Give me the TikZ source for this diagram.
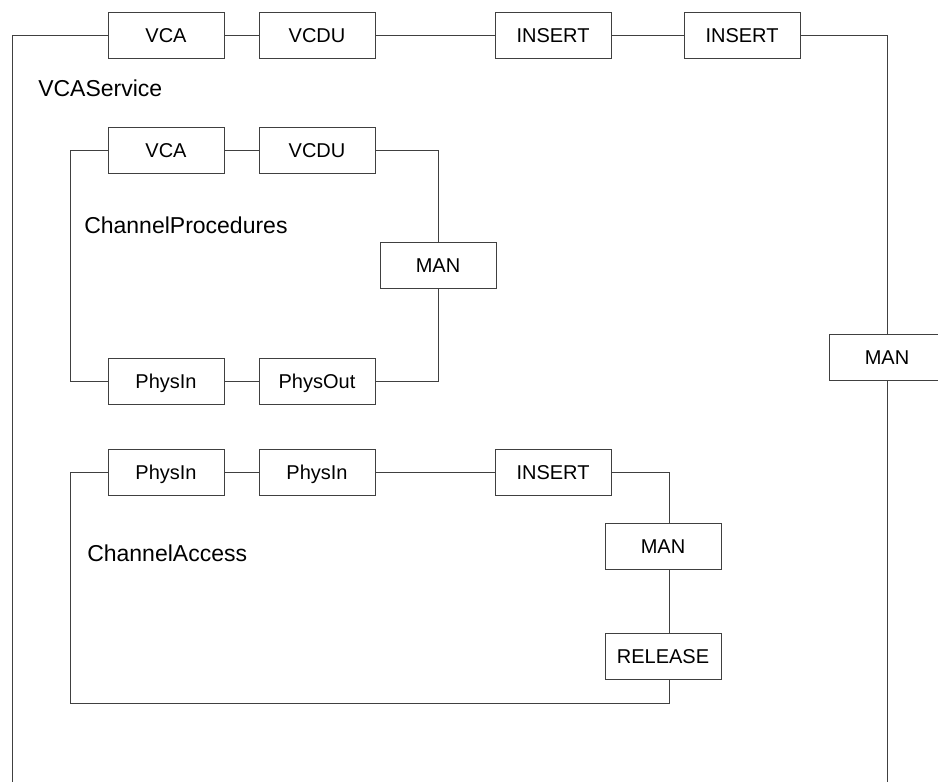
\documentclass[tikz,border=0pt]{standalone}
\usepackage{fontspec}
\setmainfont{Liberation Sans}
\begin{document}
\begin{tikzpicture}[x=.75pt,y=-.75pt,
		blk/.style={draw=black!75,line width=.75pt,minimum width=87pt,minimum height=34.5pt,
			inner sep=0pt,text height=10.7pt,text depth=0pt,font=\fontsize{15}{18}\selectfont},
		lbl/.style={anchor=west,inner sep=0pt,font=\fontsize{17.25}{20}\selectfont},
		wire/.style={draw=black!75,line width=.75pt}]
				\fill[white] (0,0) rectangle (938,782);
				\clip (0,0) rectangle (938,782);
				\def\off{4.5pt}
				
				% VCAService
				\node[blk] (vcai) at (166,35) {VCA};
				\node[blk] (vcdui) at (317,35) {VCDU};
				\node[blk] (insi) at (553,35) {INSERT};
				\node[blk] (insii) at (742,35) {INSERT};
				\node[blk] (mano) at (887,357) {MAN};
				\node[lbl] (vcas) at (38,88) {VCAService};
				\coordinate (vsw) at (12,782);
				\coordinate (vse) at (887,782);
				
				\draw[wire] (vcai.west) -| (vsw);
				\draw[wire] (vcai) -- (vcdui);
				\draw[wire] (vcdui) -- (insi);
				\draw[wire] (insi) -- (insii);
				\draw[wire] (insii.east) -| (mano.north);
				\draw[wire] (mano.south) -- (vse);
				
				% ChannelProcedures
				\node[blk] (vcaii) at (166,150) {VCA};
				\node[blk] (vcduii) at (317,150) {VCDU};
				\node[blk] (manp) at (438,265) {MAN};
				\node[blk] (physinp) at (166,381) {PhysIn};
				\node[blk] (physoutp) at (317,381) {PhysOut};
				\node[lbl] (chp) at (84,225) {ChannelProcedures};
				\coordinate (pnw) at (70,150);
				
				\draw[wire] (vcaii.west) -- (pnw) |- (physinp.west);
				\draw[wire] (vcaii) -- (vcduii);
				\draw[wire] (vcduii.east) -| (manp.north);
				\draw[wire] (manp.south) |- (physoutp.east);
				\draw[wire] (physinp) -- (physoutp);
				
				% ChannelAccess
				\node[blk] (physina) at (166,472) {PhysIn};
				\node[blk] (physinb) at (317,472) {PhysIn};
				\node[blk] (insa) at (553,472) {INSERT};
				\node[blk] (mana) at (663,546) {MAN};
				\node[blk] (rel) at (663,656) {RELEASE};
				\node[lbl] (cha) at (87,553) {ChannelAccess};
				\coordinate (asw) at (70,703);
				
				\draw[wire] (physina) -- (physinb);
				\draw[wire] (physinb) -- (insa);
				\draw[wire] (insa.east) -| ([xshift=\off]mana.north);
				\draw[wire] ([xshift=\off]mana.south) -- ([xshift=\off]rel.north);
				\draw[wire] ([xshift=\off]rel.south) |- (asw) |- (physina.west);
	\end{tikzpicture}
\end{document}
